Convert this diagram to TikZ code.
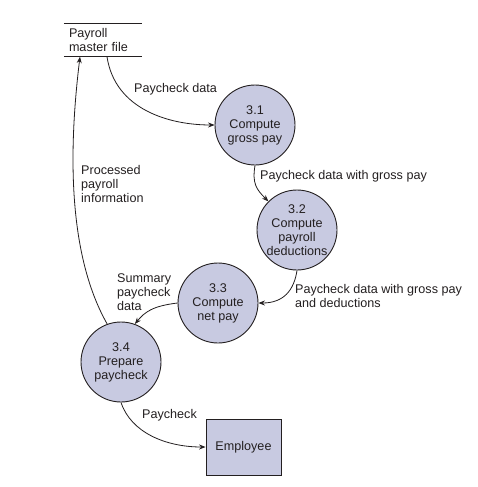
\documentclass[tikz,border=0pt]{standalone}
\usepackage{fontspec}
\setmainfont{Liberation Sans}
\usetikzlibrary{arrows.meta}
\definecolor{procfill}{RGB}{200,202,225}
\definecolor{ink}{RGB}{35,31,32}
\begin{document}
\begin{tikzpicture}[x=1pt,y=-1pt,
  every node/.style={font=\fontsize{12.6}{14}\selectfont, text=ink},
  proc/.style={circle, draw=ink, line width=0.9pt, fill=procfill, minimum size=80pt, inner sep=0pt, align=center},
  ent/.style={rectangle, draw=ink, line width=0.9pt, fill=procfill, minimum width=75pt, minimum height=56pt},
  store/.style={rectangle, minimum width=78pt, minimum height=33pt, inner xsep=5pt, text width=68pt, align=left},
  flow/.style={draw=ink, line width=0.8pt, -{Stealth[length=6.5pt,width=5pt]}},
  lbl/.style={anchor=north west, inner sep=0pt, align=left}]
\useasboundingbox (0,0) rectangle (478,487);

% data store
\node[store] (ds) at (103,40) {Payroll\\master file};
\draw[ink, line width=0.8pt] (ds.north west) -- (ds.north east);
\draw[ink, line width=0.8pt] (ds.south west) -- (ds.south east);
\coordinate (dsout) at ([xshift=4pt]ds.south);
\coordinate (dsin) at ([xshift=-23pt]ds.south);

% processes
\node[proc] (p1) at (255,125) {3.1\\Compute\\gross pay};
\node[proc] (p2) at (297,230) {3.2\\Compute\\payroll\\deductions};
\node[proc] (p3) at (218,303) {3.3\\Compute\\net pay};
\node[proc] (p4) at (121,362) {3.4\\Prepare\\paycheck};
\node[ent] (emp) at (243.5,447) {Employee};

% flows
\draw[flow] (dsout) .. controls +(8,53) and +(-45,0) .. (p1.west);
\draw[flow] (p1.south) .. controls +(-3,18) and +(-12,-12) .. (p2.north west);
\draw[flow] (p2.south) .. controls +(-3,20) and +(25,0) .. (p3.east);
\draw[flow] (p3.west) .. controls +(-25,3) and +(10,-12) .. (p4.70);
\draw[flow] (p4.110) .. controls +(-42,-74) and +(-10,82) .. (dsin);
\draw[flow] (p4.south) .. controls +(10,30) and +(-40,0) .. (emp.west);

% labels
\node[lbl] (l1) at (134,83) {Paycheck data};
\node[lbl] (l2) at (260,170) {Paycheck data with gross pay};
\node[lbl] (l3) at (295,284) {Paycheck data with gross pay\\and deductions};
\node[lbl] (l4) at (117,273) {Summary\\paycheck\\data};
\node[lbl] (l5) at (81,165) {Processed\\payroll\\information};
\node[lbl] (l6) at (142,409) {Paycheck};
\end{tikzpicture}
\end{document}
